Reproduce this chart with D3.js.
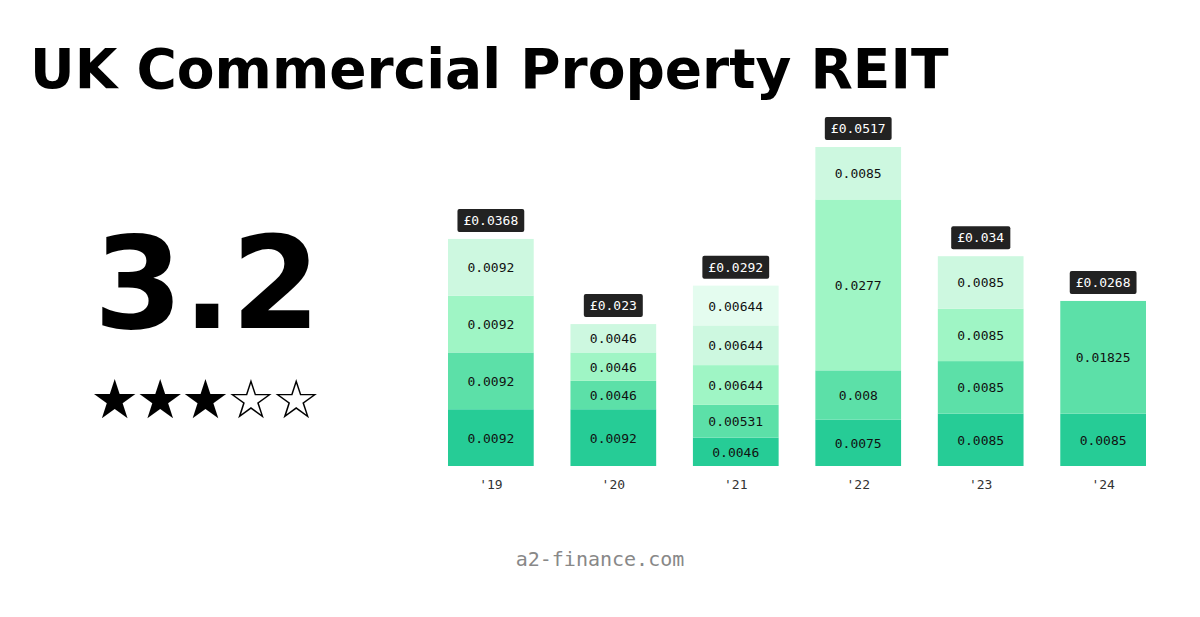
<!DOCTYPE html>
<html><head><meta charset="utf-8">
<script src="https://cdn.jsdelivr.net/npm/d3@7"></script>
<style>body{margin:0;background:#fff}</style>
</head><body><div id="wrapper"></div>
<script>
const years = ["'19", "'20", "'21", "'22", "'23", "'24"]
const segments = [
  [0.0092, 0.0092, 0.0092, 0.0092],
  [0.0092, 0.0046, 0.0046, 0.0046],
  [0.0046, 0.00531, 0.00644, 0.00644, 0.00644],
  [0.0075, 0.008, 0.0277, 0.0085],
  [0.0085, 0.0085, 0.0085, 0.0085],
  [0.0085, 0.01825]
]
const totals = ["£0.0368", "£0.023", "£0.0292", "£0.0517", "£0.034", "£0.0268"]
const rating = 3.2
const stars = 3
const colors = ["#26cc96", "#5ce0a8", "#9ff5c5", "#cdf8e0", "#e4fcef"]

const width = 1200, height = 617
const svg = d3.select('#wrapper').append('svg').attr('width', width).attr('height', height)

svg.append('text').attr('x', 30).attr('y', 88)
  .style('font-family', 'DejaVu Sans').style('font-weight', 'bold').style('font-size', '55px')
  .text('UK Commercial Property REIT')

svg.append('text').attr('x', 207).attr('y', 328).attr('text-anchor', 'middle')
  .style('font-family', 'DejaVu Sans').style('font-weight', 'bold').style('font-size', '128px')
  .text(rating)

svg.append('text').attr('x', 204).attr('y', 418).attr('text-anchor', 'middle')
  .style('font-family', 'DejaVu Sans').style('font-size', '54px').style('letter-spacing', '-3px')
  .text('★'.repeat(stars) + '☆'.repeat(5 - stars))

const xScale = d3.scaleBand().domain(years).range([448, 1146]).paddingInner(0.3)
const yScale = d3.scaleLinear().domain([0, 0.0517]).range([466, 147])

const mono = 'DejaVu Sans Mono'
years.forEach((yr, i) => {
  const g = svg.append('g')
  let acc = 0
  segments[i].forEach((v, j) => {
    const y0 = yScale(acc), y1 = yScale(acc + v)
    g.append('rect').attr('x', xScale(yr)).attr('width', xScale.bandwidth())
      .attr('y', y1).attr('height', y0 - y1).attr('fill', colors[j])
    g.append('text').attr('x', xScale(yr) + xScale.bandwidth() / 2).attr('y', (y0 + y1) / 2 + 5)
      .attr('text-anchor', 'middle').style('font-family', mono).style('font-size', '13px')
      .attr('fill', '#111').text(v)
    acc += v
  })
  const top = yScale(acc)
  const cx = xScale(yr) + xScale.bandwidth() / 2
  const lbl = g.append('text').attr('x', cx).attr('y', top - 14).attr('text-anchor', 'middle')
    .style('font-family', mono).style('font-size', '13px').attr('fill', '#fff').text(totals[i])
  const bb = lbl.node().getBBox()
  g.insert('rect', 'text:last-child').attr('x', bb.x - 6).attr('y', top - 30).attr('width', bb.width + 12)
    .attr('height', 23).attr('rx', 2).attr('fill', '#222')
  lbl.raise()
})

const xAxis = svg.append('g').attr('transform', 'translate(0,466)')
  .call(d3.axisBottom(xScale).tickSize(0).tickPadding(14))
xAxis.select('.domain').remove()
xAxis.selectAll('text').style('font-family', mono).style('font-size', '13px').attr('fill', '#333')

svg.append('text').attr('x', 600).attr('y', 566).attr('text-anchor', 'middle')
  .style('font-family', mono).style('font-size', '20px').attr('fill', '#888').text('a2-finance.com')
</script></body></html>
